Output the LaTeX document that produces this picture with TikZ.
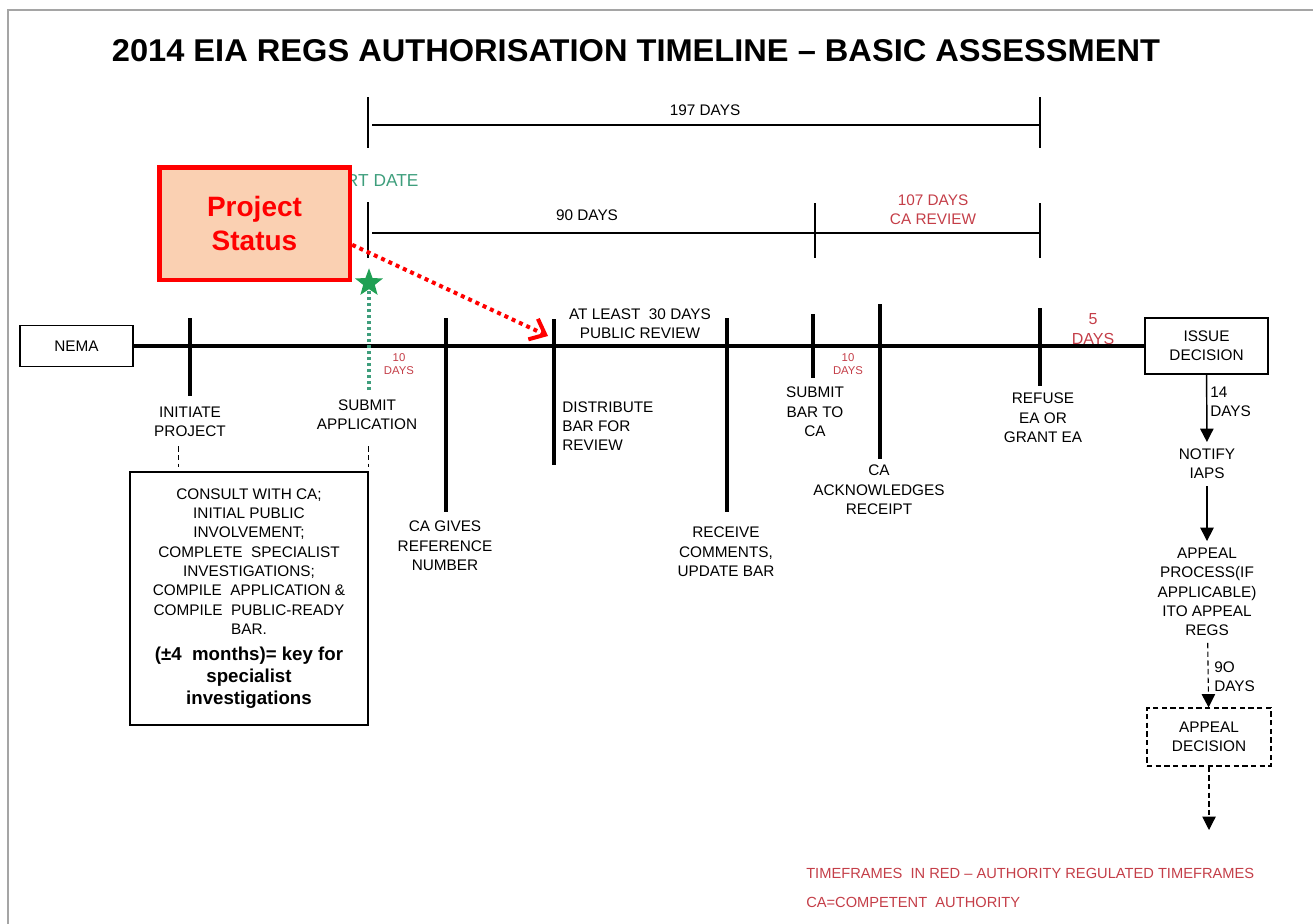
\documentclass[tikz,border=0pt]{standalone}
\usepackage{graphicx}
\usepackage{fontspec}
\setmainfont{Liberation Sans}
\usetikzlibrary{shapes.geometric,arrows.meta}

\definecolor{peach}{RGB}{250,208,178}
\definecolor{tfred}{RGB}{196,62,72}
\definecolor{stargreen}{RGB}{32,160,84}
\definecolor{startgreen}{RGB}{62,158,124}
\definecolor{framegray}{RGB}{165,165,165}

\tikzset{
    lbl/.style={font=\fontsize{11.5}{14.5}\selectfont, align=center, inner sep=0pt},
    redlbl/.style={lbl, text=tfred},
    tinyred/.style={font=\fontsize{8.5}{10}\selectfont, align=center, inner sep=0pt, text=tfred},
    flowlbl/.style={lbl, inner sep=5pt},
    tick/.style={line width=2.5pt},
    bracket/.style={line width=1pt},
    box/.style={draw, line width=1pt, lbl},
    dashlink/.style={line width=.8pt, dash pattern=on 4pt off 2.5pt},
    downarrow/.style={line width=1.1pt, -{Triangle[length=10pt,width=10pt]}},
    statusbox/.style={draw=red, fill=peach, line width=3.5pt, minimum width=143pt, minimum height=84.5pt,
        text=red, font=\bfseries\fontsize{21}{26}\selectfont, align=center},
}
\newcommand{\keytext}[1]{{\bfseries\fontsize{14}{17}\selectfont #1}}

\begin{document}
\begin{tikzpicture}[x=0.75pt,y=-0.75pt]
        \useasboundingbox (0,0) rectangle (1313,924);
        \draw[framegray, line width=1.5pt] (8,924) -- (8,10) -- (1313,10);
        \node (title) at (636,51) {\resizebox{786pt}{16.5pt}{\bfseries 2014 EIA REGS AUTHORISATION TIMELINE – BASIC ASSESSMENT}};

        % day brackets
        \draw[bracket] (368,97) -- (368,148) (1040,97) -- (1040,148) (372,125) -- (1040,125);
        \node[lbl] (d197) at (705,110) {197 DAYS};
        \draw[bracket] (368,202) -- (368,258) (815,203) -- (815,258) (1040,203) -- (1040,258) (372,233) -- (1040,233);
        \node[lbl] (d90) at (587,215) {90 DAYS};
        \node[redlbl] (d107) at (933,210) {107 DAYS\\CA REVIEW};
        \node[lbl, text=startgreen, font=\fontsize{13}{15}\selectfont] (start) at (366,181) {START DATE};

        % timeline
        \node[box, minimum width=84.75pt, minimum height=30.75pt] (nema) at (76.5,346) {NEMA};
        \node[box, minimum width=92.25pt, minimum height=42pt] (issue) at (1206.5,346) {ISSUE\\DECISION};
        \draw[tick] (nema) -- (issue);
        \foreach \x/\top/\bot in {190/318/396, 446/318/512, 554/319/465, 727/318/512, 813/314/378, 880/304/459, 1040/308/386}{
            \draw[tick] (\x,\top) -- (\x,\bot);
        }

        \node[lbl] (init) at (190,422) {INITIATE\\PROJECT};
        \node[lbl] (submit) at (367,415) {SUBMIT\\APPLICATION};
        \node[tinyred] (d10a) at (399,364) {10\\DAYS};
        \node[lbl] (ref) at (445,546) {CA GIVES\\REFERENCE\\NUMBER};
        \node[lbl, anchor=west, align=left] (distr) at (562,426) {DISTRIBUTE\\BAR FOR\\REVIEW};
        \node[lbl] (pub) at (640,324) {AT LEAST\ \ 30 DAYS\\PUBLIC REVIEW};
        \node[lbl] (recv) at (726,552) {RECEIVE\\COMMENTS,\\UPDATE BAR};
        \node[lbl] (subbar) at (815,412) {SUBMIT\\BAR TO\\CA};
        \node[tinyred] (d10b) at (848,364) {10\\DAYS};
        \node[lbl] (ack) at (879,490) {CA\\ACKNOWLEDGES\\RECEIPT};
        \node[lbl] (refuse) at (1043,418) {REFUSE\\EA OR\\GRANT EA};
        \node[redlbl, font=\fontsize{12}{14.5}\selectfont] (d5) at (1093,329) {5\\DAYS};

        % preparation box
        \node[box, minimum width=178.5pt, minimum height=189.75pt] (consult) at (249,598.5)
            {CONSULT WITH CA;\\INITIAL PUBLIC\\INVOLVEMENT;\\COMPLETE\ \ SPECIALIST\\INVESTIGATIONS;\\COMPILE\ \ APPLICATION \&\\COMPILE\ \ PUBLIC-READY\\BAR.\\[5pt]
             \keytext{(±4\ \ months)= key for}\\[2pt]\keytext{specialist}\\[2pt]\keytext{investigations}};
        \draw[dashlink] (consult.north west) ++(49,-25) -- ++(0,21);
        \draw[dashlink] (consult.north east) ++(0,-25) -- ++(0,21);

        % start marker
        \node[star, star points=5, star point ratio=2.4, fill=stargreen, minimum size=22pt, inner sep=0pt] (star) at (369,283) {};
        \coordinate (subtop) at (369,390);
        \draw[startgreen, line width=2.6pt, dash pattern=on 2.5pt off 2pt] (subtop) -- (star);

        \node[statusbox] (status) at (254.5,223.5) {Project\\Status};
        \coordinate (tip) at (548,336);
        \draw[red, line width=3pt, dash pattern=on 3pt off 3pt, -{Straight Barb[length=10pt,width=17pt]}]
            ([yshift=-16pt]status.east) -- (tip);

        % decision and appeal
        \node[flowlbl] (notify) at (1207,464) {NOTIFY\\IAPS};
        \node[flowlbl] (appeal) at (1207,592) {APPEAL\\PROCESS(IF\\APPLICABLE)\\ITO APPEAL\\REGS};
        \node[box, dashlink, minimum width=93pt, minimum height=43.5pt] (appdec) at (1209,737) {APPEAL\\DECISION};
        \coordinate (final) at (1209,830);
        \draw[downarrow] (issue) -- (notify);
        \draw[downarrow] (notify) -- (appeal);
        \draw[downarrow, dashlink] (appeal) -- (appdec);
        \draw[downarrow, dashlink] (appdec) -- (final);
        \node[lbl, anchor=west, align=left] (d14) at (1210,402) {14\\DAYS};
        \node[lbl, anchor=west, align=left] (d90b) at (1214,677) {9O\\DAYS};

        % notes
        \node[lbl, anchor=west, text=tfred, font=\fontsize{11}{13}\selectfont] (note1) at (806,873) {TIMEFRAMES\ \ IN RED – AUTHORITY REGULATED TIMEFRAMES};
        \node[lbl, anchor=west, text=tfred, font=\fontsize{11}{13}\selectfont] (note2) at (806,902) {CA=COMPETENT\ \ AUTHORITY};
    \end{tikzpicture}
\end{document}
